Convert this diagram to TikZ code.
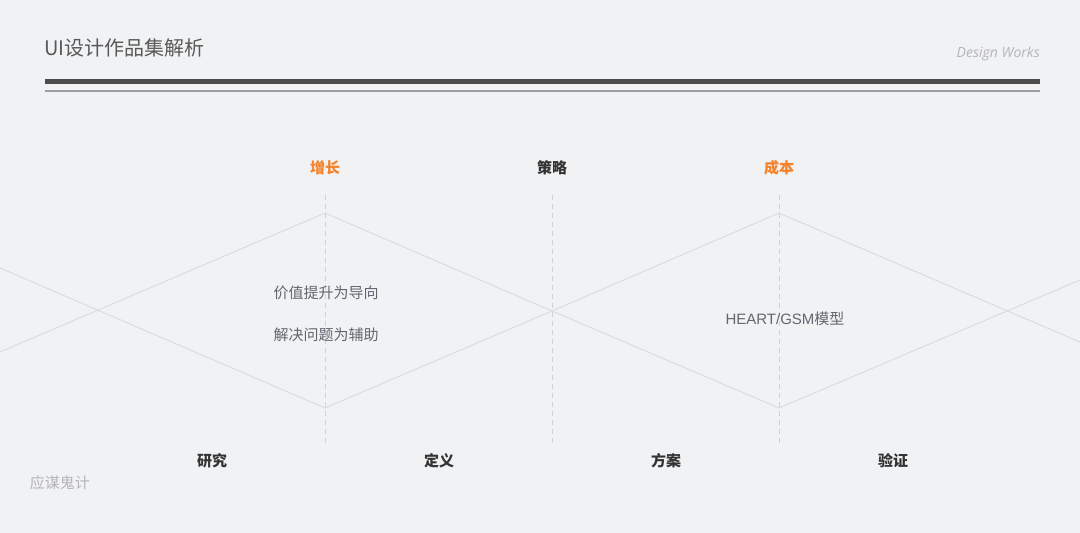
\documentclass[tikz,border=0pt]{standalone}
\usepackage{fontspec}
\setmainfont{Noto Sans CJK SC}
\newfontfamily\openit{Open Sans}
\newfontfamily\arialish{Liberation Sans}
\usepackage{xcolor}
\usetikzlibrary{positioning}
\definecolor{bgcol}{HTML}{F1F2F4}
\definecolor{accent}{HTML}{F5822A}
\definecolor{darktxt}{HTML}{333333}
\definecolor{midtxt}{HTML}{65656F}
\definecolor{faint}{HTML}{B5B5B8}
\definecolor{gridln}{HTML}{DCDCE0}

\begin{document}
\begin{tikzpicture}[x=1pt, y=-1pt,
    phase/.style={font=\fontsize{15}{18}\selectfont\bfseries, text=darktxt, inner sep=0pt},
    stage/.style={phase, text=accent},
    note/.style={font=\fontsize{15}{18}\selectfont, text=midtxt, inner sep=0pt},
    wave/.style={draw=gridln, line width=1pt},
    guide/.style={draw=gridln!95!black, line width=0.9pt, dash pattern=on 5pt off 4pt}]
    \fill[bgcol] (0,0) rectangle (1080,533);
    \useasboundingbox (0,0) rectangle (1080,533);
    % header
    \node[anchor=west, inner sep=0pt, text=black!65, font=\fontsize{20}{24}\selectfont] (title) at (44,48) {UI设计作品集解析};
    \node[anchor=east, inner sep=0pt, text=faint, font=\openit\itshape\fontsize{14}{16}\selectfont] (tag) at (1040,54) {Design Works};
    \coordinate (r1) at (45,81.5);
    \coordinate (r2) at (1040,81.5);
    \coordinate (r3) at (45,91);
    \coordinate (r4) at (1040,91);
    \draw[line width=4.5pt, draw=black!70] (r1) -- (r2);
    \draw[line width=1.3pt, draw=black!38] (r3) -- (r4);
    % wave lines
    \coordinate (a0) at (0,352);
    \coordinate (b0) at (0,268);
    \coordinate (up1) at (325,213);
    \coordinate (dn1) at (325,408);
    \coordinate (mid) at (552,311);
    \coordinate (up2) at (779,213);
    \coordinate (dn2) at (779,408);
    \coordinate (a1) at (1080,280);
    \coordinate (b1) at (1080,342);
    \draw[wave] (a0) -- (up1) -- (mid) -- (dn2) -- (a1);
    \draw[wave] (b0) -- (dn1) -- (mid) -- (up2) -- (b1);
    % guides
    \foreach \gx/\gn in {325/g1, 552/g2, 779/g3} {
        \coordinate (\gn t) at (\gx,195);
        \coordinate (\gn b) at (\gx,444);
        \draw[guide] (\gn t) -- (\gn b);
    }
    % labels
    \node[stage] (grow) at (325,168) {增长};
    \node[phase] (plan) at (552,168) {策略};
    \node[stage] (cost) at (779,168) {成本};
    \node[phase] (res) at (212,461) {研究};
    \node[phase] (def) at (439,461) {定义};
    \node[phase] (sol) at (666,461) {方案};
    \node[phase] (val) at (893,461) {验证};
    \node[note] (n1) at (326,293) {价值提升为导向};
    \node[note] (n2) at (326,335) {解决问题为辅助};
    \node[note] (n3) at (785,319) {{\arialish HEART/GSM}模型};
    \node[note, text=faint] (sig) at (60,483) {应谋鬼计};
\end{tikzpicture}
\end{document}
